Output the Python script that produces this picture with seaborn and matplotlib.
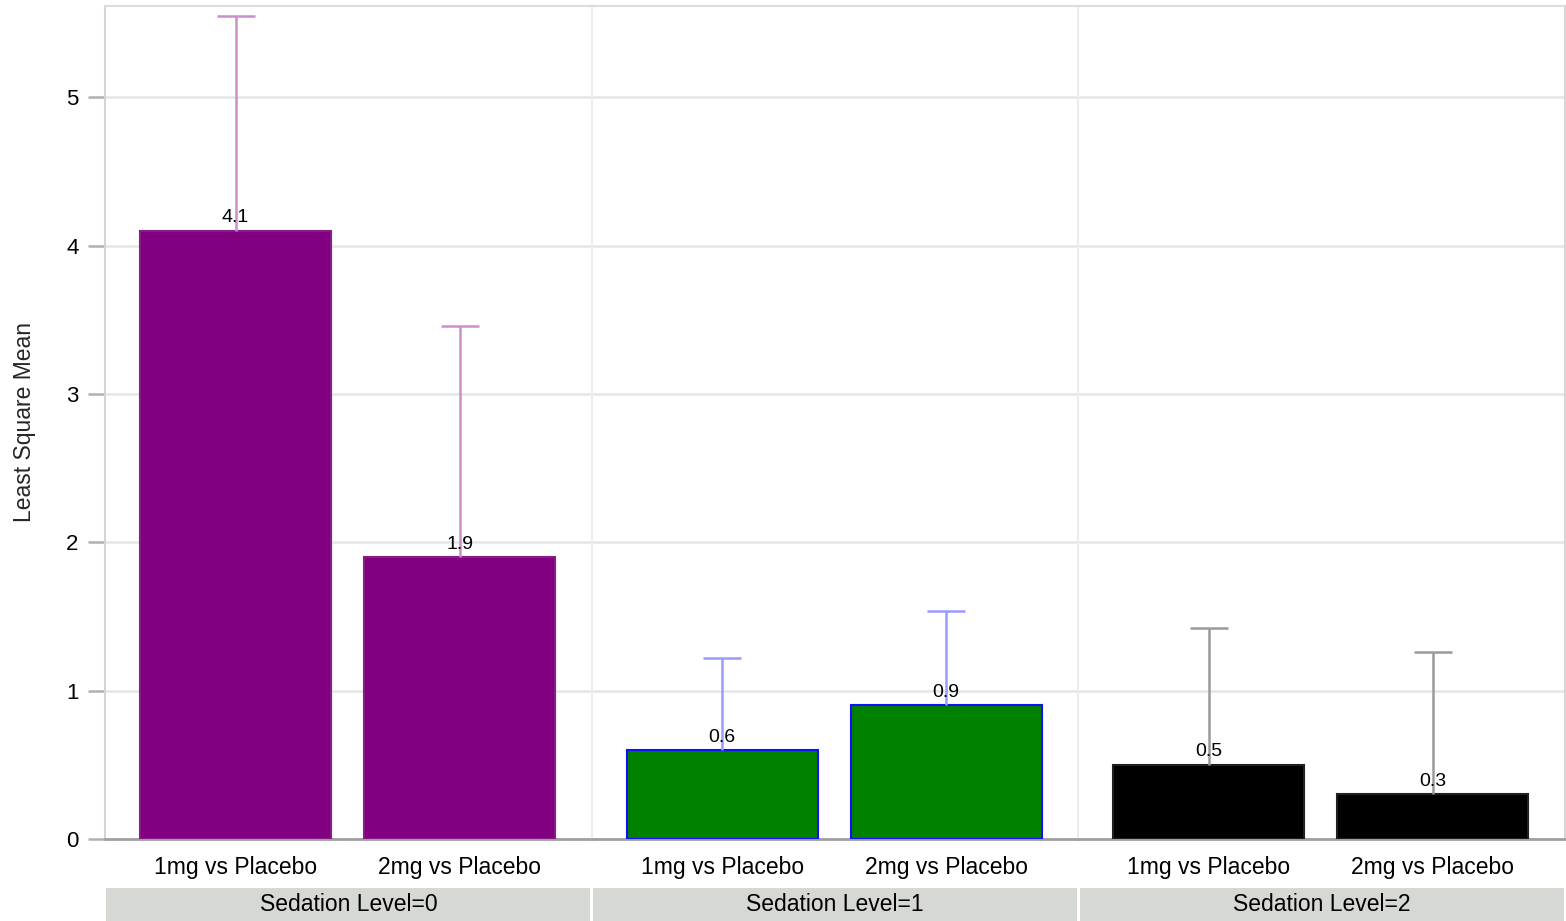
import matplotlib
matplotlib.use("Agg")
import matplotlib.pyplot as plt
from matplotlib.patches import Rectangle
import seaborn as sns
import pandas as pd
import numpy as np

# ---- data ----
panels = ["Sedation Level=0", "Sedation Level=1", "Sedation Level=2"]
comparisons = ["1mg vs Placebo", "2mg vs Placebo"]
lsm_level0 = [4.1, 1.9]
lsm_level1 = [0.6, 0.9]
lsm_level2 = [0.5, 0.3]
upper_level0 = [5.55, 3.46]
upper_level1 = [1.22, 1.54]
upper_level2 = [1.42, 1.26]
y_ticks = [0, 1, 2, 3, 4, 5]

bar_colors = ["#800080", "#008000", "#000000"]
edge_colors = ["#8a1a8a", "#1010ff", "#202020"]
err_colors = ["#cc8fcc", "#9a9aff", "#9a9a9a"]

lsm_all = [lsm_level0, lsm_level1, lsm_level2]
upper_all = [upper_level0, upper_level1, upper_level2]

rows = []
for p, lsm, up in zip(panels, lsm_all, upper_all):
    for c, v, u in zip(comparisons, lsm, up):
        rows.append({"panel": p, "comparison": c, "lsm": v, "upper": u})
df = pd.DataFrame(rows)

sns.set_style("white")
plt.rcParams["font.family"] = ["Liberation Sans", "DejaVu Sans"]

fig, axes = plt.subplots(1, 3, figsize=(15.66, 9.21), dpi=100, sharey=True)
fig.subplots_adjust(left=105/1566, right=1565/1566, bottom=(921-839)/921,
                    top=(921-6)/921, wspace=0)

grid_c = "#e6e6e6"
for k, (ax, p) in enumerate(zip(axes, panels)):
    sub = df[df["panel"] == p]
    sns.barplot(data=sub, x="comparison", y="lsm", order=comparisons,
                color=bar_colors[k], edgecolor=edge_colors[k], linewidth=1.5,
                width=0.853, saturation=1, errorbar=None, ax=ax, zorder=3)
    xs = np.arange(len(sub))
    vals = sub["lsm"].to_numpy()
    ups = sub["upper"].to_numpy()
    eb = ax.errorbar(xs, vals, yerr=[np.zeros_like(vals), ups - vals], fmt="none",
                     ecolor=err_colors[k], elinewidth=1.8, capsize=14, capthick=1.8,
                     zorder=4)
    # hide the lower caps (only upper limits shown)
    eb[1][0].set_visible(False)
    for x, v in zip(xs, vals):
        ax.text(x, v + 0.03, f"{v:.1f}", ha="center", va="bottom",
                fontsize=14, color="black", zorder=5)
    ax.set_xlim(-0.583, 1.59)
    ax.set_ylim(0, 5.615)
    ax.set_yticks(y_ticks)
    ax.yaxis.grid(True, color=grid_c, linewidth=1.8, zorder=0)
    ax.xaxis.grid(False)
    ax.set_axisbelow(True)
    ax.set_xlabel("")
    ax.set_ylabel("")
    ax.tick_params(axis="x", length=0, pad=12, labelsize=16.5, colors="black")
    for s in ["top", "left", "right"]:
        ax.spines[s].set_color("#ececec" if (s == "left" and k > 0) else "#d4d4d4")
        ax.spines[s].set_linewidth(1.5)
    ax.spines["top"].set_color("#dcdcdc")
    ax.spines["right"].set_visible(k == 2)
    ax.spines["bottom"].set_color("#a0a0a0")
    ax.spines["bottom"].set_linewidth(2)
    # strip label
    ax.add_patch(Rectangle((0.003, -0.0984), 0.994, 0.0396, transform=ax.transAxes,
                           facecolor="#d6d8d3", edgecolor="none", clip_on=False))
    ax.text(0.5, -0.0786, p, transform=ax.transAxes, ha="center", va="center",
            fontsize=16.5, color="black")
    if k > 0:
        ax.tick_params(axis="y", length=0, left=False, labelleft=False)

axes[0].tick_params(axis="y", length=12, width=1.8, color="#b0b0b0", pad=7,
                    labelsize=16, labelcolor="black", left=True)
axes[0].set_ylabel("Least Square Mean", fontsize=16.5, labelpad=22)

fig.savefig("out.png", dpi=100, facecolor="white")
